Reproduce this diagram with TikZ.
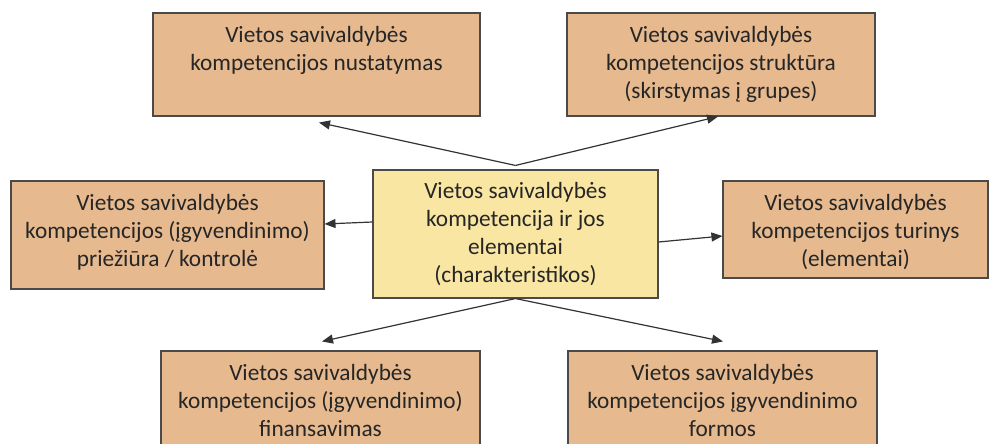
\documentclass[tikz,border=0pt]{standalone}
\usepackage{fontspec}
\setmainfont{Carlito}
\usetikzlibrary{arrows.meta}
\definecolor{boxor}{HTML}{E6B98F}
\definecolor{boxye}{HTML}{F9E6A3}
\definecolor{edgec}{HTML}{4A4A4A}
\definecolor{txtc}{HTML}{262626}
\definecolor{arrc}{HTML}{333333}
\tikzset{
  obox/.style={draw=edgec, line width=1.1pt, fill=boxor, rectangle, inner sep=0pt},
  ybox/.style={draw=edgec, line width=1.1pt, fill=boxye, rectangle, inner sep=0pt},
  btxt/.style={anchor=north, inner sep=0pt, align=center, text=txtc,
    font=\fontsize{23.3pt}{27.8pt}\selectfont},
  arr/.style={draw=arrc, line width=1.2pt, -{Triangle[length=11pt,width=9pt]}}
}
\begin{document}
\begin{tikzpicture}[x=1pt,y=-1pt]
\clip (0,0) rectangle (989,444);
\fill[white] (0,0) rectangle (989,444);
% boxes
\node[obox, minimum width=327pt, minimum height=103pt] (tl) at (316.5,64.5) {};
\node[obox, minimum width=308pt, minimum height=103pt] (tr) at (721,64.5) {};
\node[obox, minimum width=313pt, minimum height=108pt] (l) at (167.5,235) {};
\node[ybox, minimum width=285pt, minimum height=128pt] (c) at (515.5,234) {};
\node[obox, minimum width=265pt, minimum height=97pt] (r) at (855.5,229.5) {};
\node[obox, minimum width=319pt, minimum height=120pt] (bl) at (320.5,411) {};
\node[obox, minimum width=309pt, minimum height=120pt] (br) at (722.5,411) {};
% texts
\node[btxt] (tlt) at ([yshift=-14pt]tl.north) {Vietos savivaldybės\\kompetencijos nustatymas};
\node[btxt] (trt) at ([yshift=-14pt]tr.north) {Vietos savivaldybės\\kompetencijos struktūra\\(skirstymas į grupes)};
\node[btxt] (lt) at ([yshift=-14pt]l.north) {Vietos savivaldybės\\kompetencijos (įgyvendinimo)\\priežiūra / kontrolė};
\node[btxt] (ct) at ([yshift=-13pt]c.north) {Vietos savivaldybės\\kompetencija ir jos\\elementai\\(charakteristikos)};
\node[btxt] (rt) at ([yshift=-14pt]r.north) {Vietos savivaldybės\\kompetencijos turinys\\(elementai)};
\node[btxt] (blt) at ([yshift=-14pt]bl.north) {Vietos savivaldybės\\kompetencijos (įgyvendinimo)\\finansavimas};
\node[btxt] (brt) at ([yshift=-14pt]br.north) {Vietos savivaldybės\\kompetencijos įgyvendinimo\\formos};
% connection points
\coordinate (ctop) at ([yshift=4pt]c.north);
\coordinate (cbot) at (c.south);
\coordinate (tlend) at ([xshift=2.5pt,yshift=-6pt]tl.south);
\coordinate (trend) at ([xshift=-3pt]tr.south);
\coordinate (blend) at ([xshift=1.5pt,yshift=9pt]bl.north);
\coordinate (brend) at ([xshift=0.5pt,yshift=9pt]br.north);
% arrows
\draw[arr] (ctop) -- (tlend);
\draw[arr] (ctop) -- (trend);
\draw[arr] (cbot) -- (blend);
\draw[arr] (cbot) -- (brend);
\draw[arr] ([yshift=12pt]c.west) -- ([yshift=11pt]l.east);
\draw[arr] ([yshift=-8pt]c.east) -- ([yshift=-6.5pt]r.west);
\end{tikzpicture}
\end{document}
